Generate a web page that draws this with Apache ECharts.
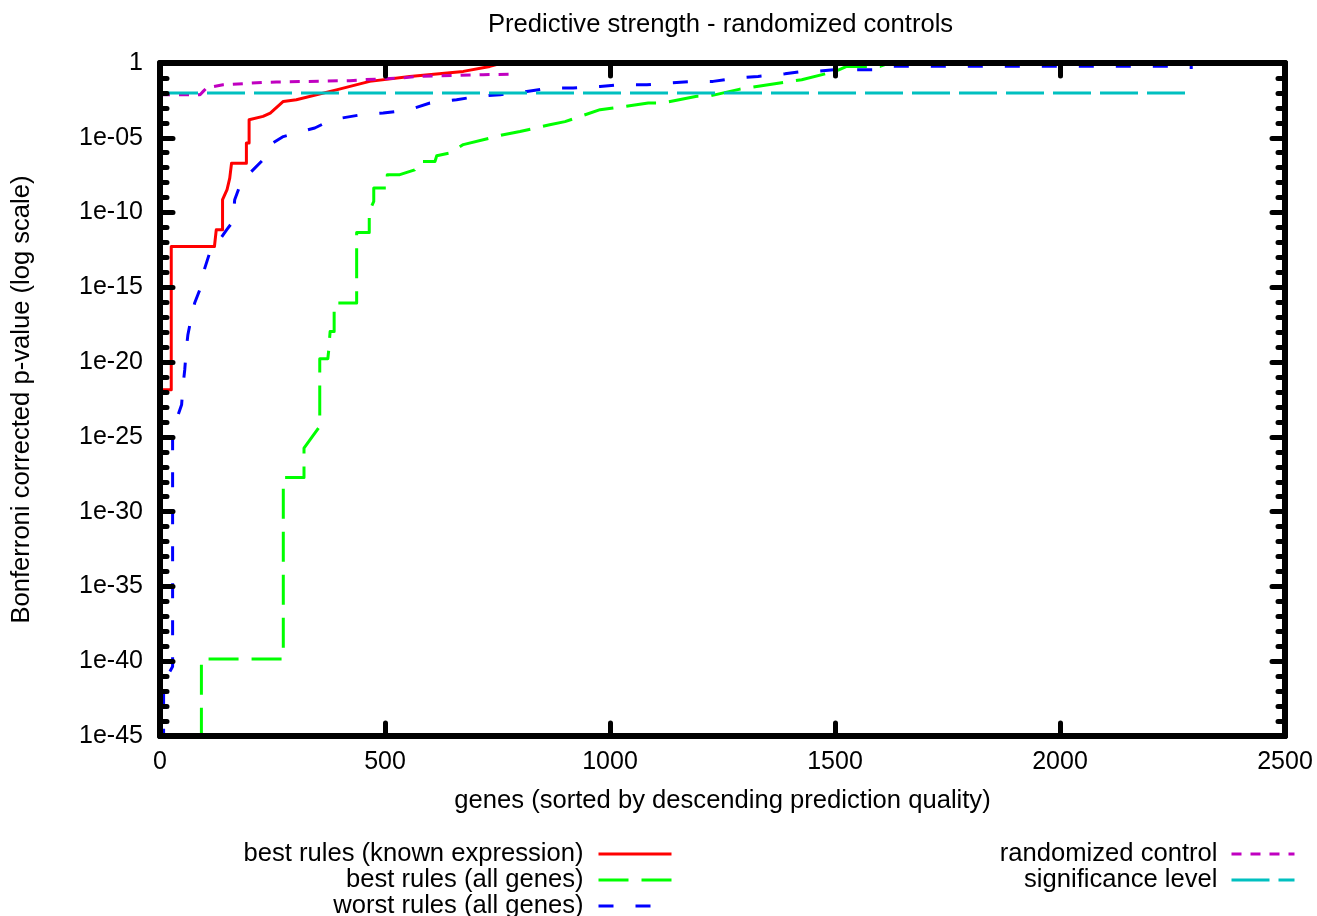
<!DOCTYPE html>
<html>
<head>
<meta charset="utf-8">
<title>Predictive strength - randomized controls</title>
<script src="https://cdn.jsdelivr.net/npm/echarts@6/dist/echarts.min.js"></script>
<style>
  html, body { margin: 0; padding: 0; background: #fff; }
  #chart { width: 1317px; height: 916px; }
</style>
</head>
<body>
<div id="chart"></div>
<script>
// [gene rank, Bonferroni corrected p-value]
const bestKnown = [
  [0, 1.4e-22], [25, 1.4e-22], [25, 5.4e-13], [121, 5.4e-13], [125, 7e-12], [139, 7e-12],
  [139, 7.2e-10], [149, 3.4e-9], [155, 2e-8], [159, 2e-7], [192, 2e-7], [192, 4.5e-6],
  [198, 4.5e-6], [198, 1.6e-4], [229, 2.7e-4], [245, 4.5e-4], [274, 2.7e-3], [303, 3.5e-3],
  [392, 0.016], [466, 0.059], [555, 0.126], [674, 0.275], [733, 0.59], [760, 1]
];
const bestAll = [
  [92, 1e-48], [92, 1.4e-40], [274, 1.4e-40], [274, 1.9e-28], [320, 1.9e-28], [320, 1.8e-26],
  [338, 1e-25], [355, 5e-25], [355, 1.7e-20], [373, 1.7e-20], [375, 6.6e-20], [378, 1.1e-18],
  [387, 1.1e-18], [387, 8.9e-17], [437, 8.9e-17], [437, 4.7e-12], [465, 4.7e-12], [465, 1.2e-10],
  [475, 5.5e-10], [475, 4.4e-9], [505, 4.4e-9], [505, 3.4e-8], [533, 3.4e-8], [566, 7.2e-8],
  [577, 2.6e-7], [611, 2.6e-7], [615, 6.3e-7], [644, 9.5e-7], [674, 3.5e-6], [763, 1.6e-5],
  [800, 2.6e-5], [866, 7.4e-5], [900, 1.2e-4], [978, 7.6e-4], [1007, 9.8e-4], [1085, 2.1e-3],
  [1115, 2.1e-3], [1193, 5.9e-3], [1218, 5.9e-3], [1289, 0.018], [1318, 0.025], [1400, 0.059],
  [1426, 0.076], [1500, 0.275], [1526, 0.59], [1600, 0.59], [1620, 1]
];
const worstAll = [
  [8, 1e-48], [8, 3.5e-42], [28, 4.4e-41], [28, 1.8e-25], [39, 2.3e-24], [48, 1.4e-23],
  [51, 2.3e-22], [55, 3.1e-21], [59, 1.1e-19], [62, 6.8e-19], [70, 1.1e-17], [77, 8.9e-17],
  [92, 1.3e-15], [96, 8.9e-15], [109, 1.5e-13], [125, 7e-13], [148, 7e-12], [162, 2.5e-11],
  [166, 7.2e-10], [177, 5.6e-9], [196, 3.4e-8], [233, 4.5e-7], [251, 4.5e-6], [274, 1.2e-5],
  [314, 2.6e-5], [344, 4.5e-5], [381, 1.6e-4], [448, 3.5e-4], [496, 4.5e-4], [555, 7.6e-4],
  [600, 2.1e-3], [659, 3.5e-3], [707, 5.9e-3], [756, 7.6e-3], [815, 0.0126], [867, 0.021],
  [918, 0.021], [978, 0.027], [1022, 0.035], [1082, 0.035], [1127, 0.046], [1185, 0.059],
  [1229, 0.059], [1285, 0.1], [1329, 0.126], [1389, 0.19], [1428, 0.275], [1460, 0.275],
  [1497, 0.355], [1594, 0.355], [1630, 0.6], [2240, 0.6], [2250, 0.5], [2295, 0.5]
];
const randomCtrl = [
  [0, 0.0076], [89, 0.0076], [96, 0.0126], [103, 0.021], [140, 0.035], [229, 0.05],
  [259, 0.054], [422, 0.066], [451, 0.076], [540, 0.1], [571, 0.126], [718, 0.165], [784, 0.18]
];
const sigLevel = [[0, 0.01], [2295, 0.01]];

const names = [
  'best rules (known expression)',
  'best rules (all genes)',
  'worst rules (all genes)',
  'randomized control',
  'significance level'
];

const FONT = '"Liberation Sans", Arial, Helvetica, sans-serif';
const txt = { color: '#000', fontSize: 25.6, fontFamily: FONT };
const tickTxt = { color: '#000', fontSize: 25, fontFamily: FONT };

// exponent -> "1e-05" style label
function expLabel(v) {
  if (v === 0) return '1';
  const e = Math.abs(Math.round(v));
  return '1e-' + (e < 10 ? '0' + e : e);
}

const border = { show: true, lineStyle: { color: '#000', width: 6, cap: 'round' } };
const tickStyle = { color: '#000', width: 5, cap: 'round' };
const majorTick = { show: true, inside: true, length: 13, lineStyle: tickStyle };
const minorTick = { show: true, splitNumber: 5, length: 7, lineStyle: tickStyle };

function line(name, data, color, dash) {
  return {
    name, type: 'line', data,
    xAxisIndex: 0, yAxisIndex: 0,
    symbol: 'none', showSymbol: false,
    animation: false, clip: true,
    lineStyle: { color, width: 3, type: dash || 'solid', cap: 'butt', join: 'round' },
    itemStyle: { color },
    emphasis: { disabled: true }
  };
}

function legendCol(data, right, itemWidth, gap) {
  return {
    data, right, itemWidth,
    orient: 'vertical', align: 'right', top: 841, height: 100, padding: 0,
    itemHeight: 14, itemGap: 0, selectedMode: false,
    itemStyle: { opacity: 0 },
    lineStyle: { width: 3 },
    textStyle: Object.assign({ padding: [0, gap, 0, 0] }, txt)
  };
}

const chart = echarts.init(document.getElementById('chart'), null, { renderer: 'canvas' });
chart.setOption({
  animation: false,
  backgroundColor: '#fff',
  title: {
    text: 'Predictive strength - randomized controls',
    left: 488, top: 12, padding: 0,
    textStyle: Object.assign({ fontWeight: 'normal' }, txt)
  },
  grid: { left: 160, right: 32, top: 63, bottom: 180 },
  legend: [
    legendCol(names.slice(0, 3), 644, 73, 10),
    legendCol(names.slice(3), 21, 63, 9)
  ],
  xAxis: [
    {
      type: 'value', min: 0, max: 2500, interval: 500, position: 'bottom', z: 10,
      axisLine: border, axisTick: majorTick, splitLine: { show: false },
      axisLabel: Object.assign({ margin: 14, formatter: v => String(v) }, tickTxt),
      name: 'genes (sorted by descending prediction quality)',
      nameLocation: 'middle', nameGap: 52, nameTextStyle: txt
    },
    {
      type: 'value', min: 0, max: 2500, interval: 500, position: 'top', z: 10,
      axisLine: border, axisTick: majorTick, splitLine: { show: false },
      axisLabel: { show: false }
    }
  ],
  yAxis: [
    { type: 'log', logBase: 10, min: 1e-45, max: 1, show: false },
    {
      type: 'value', min: -45, max: 0, interval: 5, position: 'left', z: 10,
      axisLine: border, axisTick: majorTick, minorTick,
      splitLine: { show: false }, minorSplitLine: { show: false },
      axisLabel: Object.assign({ margin: 17, formatter: expLabel }, tickTxt),
      name: 'Bonferroni corrected p-value (log scale)',
      nameLocation: 'middle', nameGap: 125, nameRotate: 90, nameTextStyle: txt
    },
    {
      type: 'value', min: -45, max: 0, interval: 5, position: 'right', z: 10,
      axisLine: border, axisTick: majorTick, minorTick,
      splitLine: { show: false }, minorSplitLine: { show: false },
      axisLabel: { show: false }
    }
  ],
  series: [
    line(names[0], bestKnown, '#ff0000'),
    line(names[1], bestAll, '#00ff00', [30, 13]),
    line(names[2], worstAll, '#0000ff', [15, 22]),
    line(names[3], randomCtrl, '#c000c0', [10, 9]),
    line(names[4], sigLevel, '#00c0c0', [38, 9])
  ]
});
</script>
</body>
</html>
